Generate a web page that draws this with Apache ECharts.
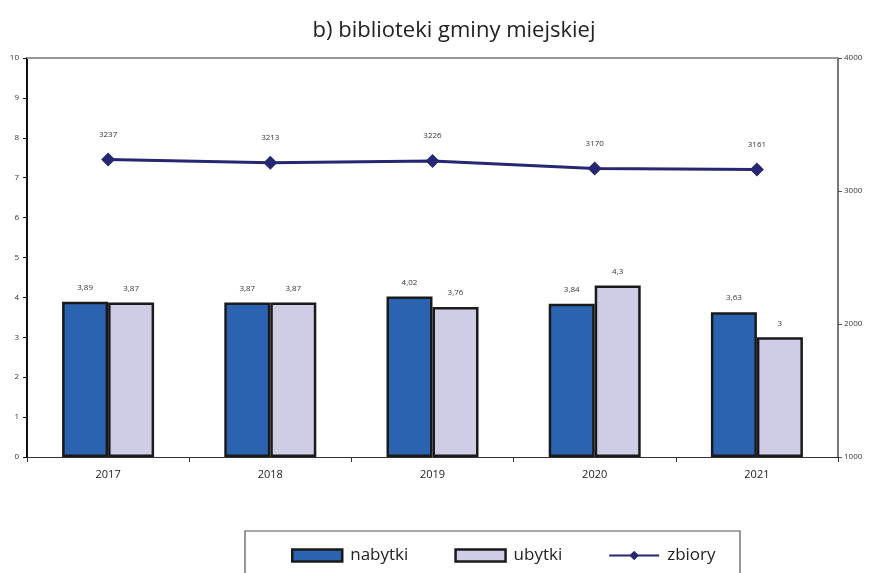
<!DOCTYPE html>
<html><head><meta charset="utf-8">
<script src="https://cdn.jsdelivr.net/npm/echarts@6/dist/echarts.min.js"></script>
<style>html,body{margin:0;padding:0;background:#fff}#c{width:872px;height:573px}</style>
</head><body><div id="c"></div>
<script>
const categories = ['2017','2018','2019','2020','2021'];
const nabytki = [3.89, 3.87, 4.02, 3.84, 3.63];
const ubytki = [3.87, 3.87, 3.76, 4.3, 3];
const zbiory = [3237, 3213, 3226, 3170, 3161];
const fmt = v => String(v).replace('.', ',');

const chart = echarts.init(document.getElementById('c'));
chart.setOption({
  animation: false,
  backgroundColor: '#fff',
  textStyle: { fontFamily: 'Open Sans, DejaVu Sans, sans-serif' },
  title: { text: 'b) biblioteki gminy miejskiej', left: 449, textAlign: 'center', top: 15,
    textStyle: { fontSize: 22, fontWeight: 'normal', color: '#222', fontFamily: 'Open Sans' } },
  grid: { left: 27, right: 34, top: 58, bottom: 116 },
  graphic: [
    { type: 'rect', shape: { x: 245, y: 531, width: 495, height: 60 },
      style: { fill: '#fff', stroke: '#555', lineWidth: 1.2 }, z: 0 },
    { type: 'line', shape: { x1: 27, y1: 58, x2: 838, y2: 58 }, style: { stroke: '#999', lineWidth: 2 }, z: 1 }
  ],
  legend: { bottom: 4, left: 286, itemWidth: 50, itemHeight: 12, itemGap: 46,
    textStyle: { fontSize: 17, color: '#222', padding: [0, 0, 0, 3] }, z: 5,
    data: [
      { name: 'nabytki', icon: 'rect', itemStyle: { borderWidth: 2.5, borderColor: '#1a1a1a' } },
      { name: 'ubytki', icon: 'rect', itemStyle: { borderWidth: 2.5, borderColor: '#1a1a1a' } },
      { name: 'zbiory' }] },
  xAxis: { type: 'category', data: categories,
    axisLine: { lineStyle: { color: '#333', width: 1 } },
    axisTick: { show: true, length: 5, lineStyle: { color: '#333' } },
    axisLabel: { fontSize: 11, color: '#222', margin: 12 } },
  yAxis: [
    { type: 'value', min: 0, max: 10, interval: 1, position: 'left',
      axisLine: { show: true, lineStyle: { color: '#111', width: 2 } },
      axisTick: { show: true, length: 4, inside: false, lineStyle: { color: '#111' } },
      axisLabel: { fontSize: 8, color: '#333', margin: 8 },
      splitLine: { show: false } },
    { type: 'value', min: 1000, max: 4000, interval: 1000, position: 'right',
      axisLine: { show: true, lineStyle: { color: '#777', width: 2 } },
      axisTick: { show: true, length: 4, lineStyle: { color: '#555' } },
      axisLabel: { fontSize: 8, color: '#333', margin: 6, formatter: v => String(v) },
      splitLine: { show: false } }
  ],
  series: [
    { name: 'nabytki', type: 'bar', data: nabytki, barWidth: 46, barGap: '0%',
      itemStyle: { color: '#2b63b0', borderColor: '#1a1a1a', borderWidth: 2.5 },
      label: { show: true, position: 'top', distance: 10, fontSize: 8, color: '#333', formatter: p => fmt(p.value) } },
    { name: 'ubytki', type: 'bar', data: ubytki, barWidth: 46,
      itemStyle: { color: '#cfcde6', borderColor: '#1a1a1a', borderWidth: 2.5 },
      label: { show: true, position: 'top', distance: 10, fontSize: 8, color: '#333', formatter: p => fmt(p.value) } },
    { name: 'zbiory', type: 'line', yAxisIndex: 1, data: zbiory,
      symbol: 'diamond', symbolSize: 14,
      lineStyle: { color: '#262673', width: 3 }, itemStyle: { color: '#262673' },
      label: { show: true, position: 'top', distance: 14, fontSize: 8, color: '#333' } }
  ]
});
</script></body></html>
